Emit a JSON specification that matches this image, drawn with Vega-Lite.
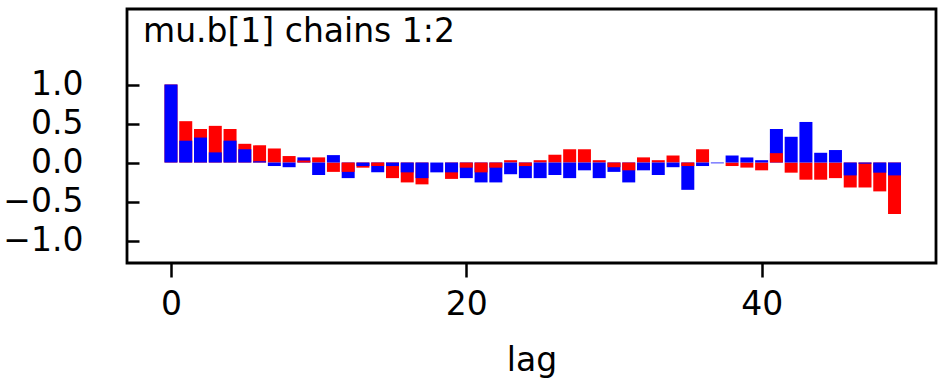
{
  "$schema": "https://vega.github.io/schema/vega-lite/v6.json",
  "autosize": "none",
  "width": 809,
  "height": 254,
  "padding": {"left": 127, "top": 9, "right": 7, "bottom": 116},
  "background": "white",
  "config": {
    "font": "DejaVu Sans",
    "view": {"stroke": "black", "strokeWidth": 2.8},
    "axis": {
      "labelFont": "DejaVu Sans",
      "labelFontSize": 33,
      "labelColor": "black",
      "tickColor": "black",
      "tickWidth": 2.5,
      "domain": false,
      "grid": false,
      "titleFont": "DejaVu Sans",
      "titleFontSize": 33,
      "titleFontWeight": "normal",
      "titleColor": "black"
    }
  },
  "title": {
    "text": "mu.b[1] chains 1:2",
    "anchor": "start",
    "frame": "group",
    "font": "DejaVu Sans",
    "fontSize": 33,
    "fontWeight": "normal",
    "color": "black",
    "offset": -40,
    "dx": 16
  },
  "data": {
    "values": [
      {"lag": 0, "chain": "2", "acf": 1.0}, {"lag": 0, "chain": "1", "acf": 1.0},
      {"lag": 1, "chain": "2", "acf": 0.53}, {"lag": 1, "chain": "1", "acf": 0.28},
      {"lag": 2, "chain": "2", "acf": 0.43}, {"lag": 2, "chain": "1", "acf": 0.32},
      {"lag": 3, "chain": "2", "acf": 0.47}, {"lag": 3, "chain": "1", "acf": 0.13},
      {"lag": 4, "chain": "2", "acf": 0.43}, {"lag": 4, "chain": "1", "acf": 0.28},
      {"lag": 5, "chain": "2", "acf": 0.24}, {"lag": 5, "chain": "1", "acf": 0.17},
      {"lag": 6, "chain": "2", "acf": 0.22}, {"lag": 6, "chain": "1", "acf": 0.015},
      {"lag": 7, "chain": "2", "acf": 0.18}, {"lag": 7, "chain": "1", "acf": -0.045},
      {"lag": 8, "chain": "2", "acf": 0.083}, {"lag": 8, "chain": "1", "acf": -0.06},
      {"lag": 9, "chain": "1", "acf": 0.066}, {"lag": 9, "chain": "2", "acf": 0.025},
      {"lag": 10, "chain": "2", "acf": 0.066}, {"lag": 10, "chain": "1", "acf": -0.16},
      {"lag": 11, "chain": "2", "acf": -0.12}, {"lag": 11, "chain": "1", "acf": 0.095},
      {"lag": 12, "chain": "1", "acf": -0.2}, {"lag": 12, "chain": "2", "acf": -0.12},
      {"lag": 13, "chain": "2", "acf": -0.066}, {"lag": 13, "chain": "1", "acf": -0.045},
      {"lag": 14, "chain": "1", "acf": -0.126}, {"lag": 14, "chain": "2", "acf": -0.045},
      {"lag": 15, "chain": "2", "acf": -0.2}, {"lag": 15, "chain": "1", "acf": -0.045},
      {"lag": 16, "chain": "2", "acf": -0.255}, {"lag": 16, "chain": "1", "acf": -0.126},
      {"lag": 17, "chain": "2", "acf": -0.28}, {"lag": 17, "chain": "1", "acf": -0.2},
      {"lag": 18, "chain": "1", "acf": -0.126}, {"lag": 18, "chain": "2", "acf": 0.0},
      {"lag": 19, "chain": "2", "acf": -0.21}, {"lag": 19, "chain": "1", "acf": -0.126},
      {"lag": 20, "chain": "1", "acf": -0.2}, {"lag": 20, "chain": "2", "acf": -0.066},
      {"lag": 21, "chain": "1", "acf": -0.255}, {"lag": 21, "chain": "2", "acf": -0.126},
      {"lag": 22, "chain": "1", "acf": -0.255}, {"lag": 22, "chain": "2", "acf": -0.066},
      {"lag": 23, "chain": "2", "acf": 0.03}, {"lag": 23, "chain": "1", "acf": -0.15},
      {"lag": 24, "chain": "1", "acf": -0.2}, {"lag": 24, "chain": "2", "acf": -0.045},
      {"lag": 25, "chain": "2", "acf": 0.03}, {"lag": 25, "chain": "1", "acf": -0.2},
      {"lag": 26, "chain": "2", "acf": 0.1}, {"lag": 26, "chain": "1", "acf": -0.16},
      {"lag": 27, "chain": "2", "acf": 0.17}, {"lag": 27, "chain": "1", "acf": -0.2},
      {"lag": 28, "chain": "2", "acf": 0.17}, {"lag": 28, "chain": "1", "acf": -0.1},
      {"lag": 29, "chain": "2", "acf": 0.03}, {"lag": 29, "chain": "1", "acf": -0.2},
      {"lag": 30, "chain": "1", "acf": -0.12}, {"lag": 30, "chain": "2", "acf": -0.06},
      {"lag": 31, "chain": "1", "acf": -0.255}, {"lag": 31, "chain": "2", "acf": -0.1},
      {"lag": 32, "chain": "2", "acf": 0.066}, {"lag": 32, "chain": "1", "acf": -0.1},
      {"lag": 33, "chain": "2", "acf": 0.03}, {"lag": 33, "chain": "1", "acf": -0.16},
      {"lag": 34, "chain": "2", "acf": 0.09}, {"lag": 34, "chain": "1", "acf": -0.06},
      {"lag": 35, "chain": "1", "acf": -0.35}, {"lag": 35, "chain": "2", "acf": -0.045},
      {"lag": 36, "chain": "2", "acf": 0.17}, {"lag": 36, "chain": "1", "acf": -0.045},
      {"lag": 37, "chain": "2", "acf": 0.0}, {"lag": 37, "chain": "1", "acf": -0.01},
      {"lag": 38, "chain": "2", "acf": -0.045}, {"lag": 38, "chain": "1", "acf": 0.09},
      {"lag": 39, "chain": "2", "acf": -0.065}, {"lag": 39, "chain": "1", "acf": 0.065},
      {"lag": 40, "chain": "2", "acf": -0.1}, {"lag": 40, "chain": "1", "acf": 0.03},
      {"lag": 41, "chain": "1", "acf": 0.43}, {"lag": 41, "chain": "2", "acf": 0.12},
      {"lag": 42, "chain": "2", "acf": -0.13}, {"lag": 42, "chain": "1", "acf": 0.33},
      {"lag": 43, "chain": "2", "acf": -0.22}, {"lag": 43, "chain": "1", "acf": 0.52},
      {"lag": 44, "chain": "2", "acf": -0.22}, {"lag": 44, "chain": "1", "acf": 0.125},
      {"lag": 45, "chain": "2", "acf": -0.2}, {"lag": 45, "chain": "1", "acf": 0.16},
      {"lag": 46, "chain": "2", "acf": -0.32}, {"lag": 46, "chain": "1", "acf": -0.165},
      {"lag": 47, "chain": "2", "acf": -0.32}, {"lag": 47, "chain": "1", "acf": -0.015},
      {"lag": 48, "chain": "2", "acf": -0.37}, {"lag": 48, "chain": "1", "acf": -0.13},
      {"lag": 49, "chain": "2", "acf": -0.66}, {"lag": 49, "chain": "1", "acf": -0.165}
    ]
  },
  "mark": {"type": "bar", "size": 13},
  "encoding": {
    "x": {
      "field": "lag",
      "type": "quantitative",
      "scale": {"domain": [-2.64, 51.47], "nice": false, "zero": false},
      "axis": {
        "values": [0, 20, 40],
        "format": "d",
        "tickSize": 14,
        "labelPadding": 11,
        "title": "lag",
        "titleBaseline": "alphabetic",
        "titleY": 107
      }
    },
    "y": {
      "field": "acf",
      "type": "quantitative",
      "stack": null,
      "scale": {"domain": [-1.288, 1.968], "nice": false, "zero": false},
      "axis": {
        "values": [-1, -0.5, 0, 0.5, 1],
        "format": ".1f",
        "tickSize": -12,
        "labelPadding": 56,
        "title": null
      }
    },
    "color": {
      "field": "chain",
      "type": "nominal",
      "scale": {"domain": ["1", "2"], "range": ["#0000FF", "#FF0000"]},
      "legend": null
    }
  }
}
